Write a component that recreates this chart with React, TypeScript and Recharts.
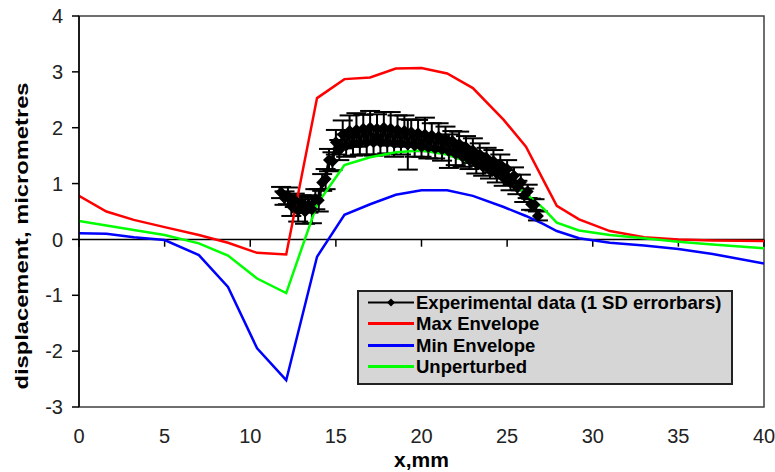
import { LineChart, Line, XAxis, YAxis, ReferenceLine, ReferenceArea, ErrorBar, Legend } from 'recharts';

// envelope curves share one x grid (mm)
const envX = [0, 1.6, 3.2, 5, 7, 8.7, 10.4, 12.1, 13.9, 15.5, 17, 18.5, 20, 21.5, 23, 24.8, 26.1, 27.1, 27.9, 29.2, 31, 33, 35, 37, 40];
const maxEnvelope = [0.78, 0.5, 0.35, 0.22, 0.08, -0.06, -0.24, -0.27, 2.53, 2.87, 2.9, 3.06, 3.07, 2.97, 2.71, 2.14, 1.66, 1.07, 0.6, 0.36, 0.15, 0.04, 0.0, -0.02, -0.03];
const minEnvelope = [0.11, 0.1, 0.04, -0.01, -0.28, -0.85, -1.95, -2.52, -0.31, 0.44, 0.63, 0.8, 0.88, 0.88, 0.78, 0.58, 0.42, 0.28, 0.15, 0.02, -0.06, -0.11, -0.17, -0.26, -0.43];
const unperturbed = [0.33, 0.25, 0.17, 0.08, -0.07, -0.29, -0.7, -0.96, 0.63, 1.33, 1.47, 1.56, 1.59, 1.52, 1.36, 1.13, 0.82, 0.56, 0.3, 0.16, 0.08, 0.02, -0.04, -0.09, -0.16];

// experimental points
const expX = [
  11.8, 12.0, 12.2, 12.4, 12.6, 12.8, 13.0, 13.2, 13.4, 13.6,
  13.8, 14.0, 14.2, 14.4, 14.6, 14.8, 15.0, 15.2, 15.4, 15.6,
  15.8, 16.0, 16.2, 16.4, 16.6, 16.8, 17.0, 17.2, 17.4, 17.6,
  17.8, 18.0, 18.2, 18.4, 18.6, 18.8, 19.0, 19.2, 19.4, 19.6,
  19.8, 20.0, 20.2, 20.4, 20.6, 20.8, 21.0, 21.2, 21.4, 21.6,
  21.8, 22.0, 22.2, 22.4, 22.6, 22.8, 23.0, 23.2, 23.4, 23.6,
  23.8, 24.0, 24.2, 24.4, 24.6, 24.8, 25.0, 25.2, 25.4, 25.6,
  25.8, 26.0, 26.2, 26.4, 26.6, 26.8,
];
const expY = [
  0.84, 0.74, 0.78, 0.6, 0.7, 0.52, 0.64, 0.5, 0.62, 0.54,
  0.72, 0.7, 1.02, 1.08, 1.42, 1.4, 1.74, 1.6, 1.88, 1.68,
  1.94, 1.72, 1.96, 1.72, 1.98, 1.74, 2.0, 1.74, 1.98, 1.74,
  2.0, 1.74, 1.98, 1.72, 1.96, 1.72, 1.94, 1.7, 1.92, 1.68,
  1.9, 1.66, 1.88, 1.65, 1.86, 1.63, 1.84, 1.61, 1.8, 1.58,
  1.76, 1.53, 1.71, 1.48, 1.65, 1.42, 1.59, 1.36, 1.52, 1.3,
  1.46, 1.24, 1.4, 1.18, 1.34, 1.1, 1.26, 1.02, 1.14, 0.93,
  1.02, 0.79, 0.86, 0.63, 0.62, 0.42,
];
const expSd = [
  0.1, 0.12, 0.15, 0.18, 0.12, 0.2, 0.15, 0.22, 0.14, 0.25,
  0.18, 0.2, 0.15, 0.18, 0.2, 0.16, 0.22, 0.18, 0.25, 0.2,
  0.28, 0.22, 0.3, 0.2, 0.25, 0.22, 0.3, 0.24, 0.26, 0.22,
  0.28, 0.2, 0.3, 0.24, 0.26, 0.2, 0.28, 0.45, 0.22, 0.2,
  0.24, 0.18, 0.3, 0.2, 0.22, 0.18, 0.24, 0.2, 0.22, 0.3,
  0.18, 0.2, 0.22, 0.18, 0.2, 0.16, 0.22, 0.18, 0.2, 0.16,
  0.18, 0.15, 0.2, 0.16, 0.18, 0.14, 0.16, 0.14, 0.15, 0.12,
  0.14, 0.12, 0.12, 0.1, 0.1, 0.08,
];

const xTicks = [0, 5, 10, 15, 20, 25, 30, 35, 40];
const yTicks = [-3, -2, -1, 0, 1, 2, 3, 4];

const seriesNames = ['Experimental data (1 SD errorbars)', 'Max Envelope', 'Min Envelope', 'Unperturbed'];

const toRows = (xs: number[], ys: number[]) => xs.map((x, i) => ({ x, y: ys[i] }));
const maxData = toRows(envX, maxEnvelope);
const minData = toRows(envX, minEnvelope);
const unpData = toRows(envX, unperturbed);
const expData = expX.map((x, i) => ({ x, y: expY[i], sd: expSd[i] }));

const FONT = '"Liberation Sans", Arial, sans-serif';
const colors = ['#000000', '#ff0000', '#0000ff', '#00ff00'];

const Diamond = (props: any) => {
  const { cx, cy } = props;
  if (cx == null || cy == null) return null;
  const r = 6;
  return <polygon points={`${cx},${cy - r} ${cx + r},${cy} ${cx},${cy + r} ${cx - r},${cy}`} fill="#000" />;
};

const YTitle = () => (
  <text
    x={27.5}
    y={236}
    transform="rotate(-90 27.5 236)"
    textAnchor="middle"
    fontFamily={FONT}
    fontWeight="bold"
    fontSize={19}
    textLength={307}
    lengthAdjust="spacingAndGlyphs"
    fill="#000"
  >
    displacement, micrometres
  </text>
);

const LegendBox = () => (
  <div
    style={{
      width: 376,
      height: 95,
      boxSizing: 'border-box',
      border: '2px solid #222',
      background: '#d6d6d6',
      fontFamily: FONT,
      fontWeight: 'bold',
      fontSize: 18.5,
      color: '#000',
    }}
  >
    {seriesNames.map((name, i) => (
      <div key={name} style={{ display: 'flex', alignItems: 'center', height: 21.3 }}>
        <svg width={57} height={21} style={{ flex: 'none' }}>
          <line x1={9} y1={10.5} x2={55} y2={10.5} stroke={colors[i]} strokeWidth={i === 0 ? 2 : 3} />
          {i === 0 && <polygon points="32,6.5 36,10.5 32,14.5 28,10.5" fill="#000" />}
        </svg>
        <span style={{ whiteSpace: 'nowrap', lineHeight: '21px' }}>{name}</span>
      </div>
    ))}
  </div>
);

export default function App() {
  return (
    <div style={{ position: 'absolute', left: 0, top: 0, background: '#fff' }}>
      <LineChart width={775} height={472} margin={{ top: 16, right: 11, bottom: 0, left: 0 }}>
        <XAxis
          type="number"
          dataKey="x"
          domain={[0, 40]}
          ticks={xTicks}
          allowDataOverflow
          axisLine={false}
          tickLine={false}
          tickSize={0}
          tickMargin={22}
          height={65}
          tick={{ fontSize: 20, fontFamily: FONT, fill: '#222' }}
          label={{ value: 'x,mm', position: 'insideBottom', offset: 5, fontSize: 21, fontWeight: 'bold', fontFamily: FONT, fill: '#000' }}
        />
        <YAxis
          type="number"
          domain={[-3, 4]}
          ticks={yTicks}
          allowDataOverflow
          width={79}
          axisLine={{ stroke: '#000', strokeWidth: 1.5 }}
          tickLine={{ stroke: '#000', strokeWidth: 1.5 }}
          tickSize={7}
          tickMargin={9}
          tick={{ fontSize: 20, fontFamily: FONT, fill: '#222' }}
          label={<YTitle />}
        />
        <ReferenceArea x1={0} x2={40} y1={-3} y2={4} fill="none" stroke="#404040" strokeWidth={1.5} ifOverflow="visible" />
        <ReferenceLine y={0} stroke="#000" strokeWidth={1.5} />
        {xTicks.map((t) => (
          <ReferenceLine key={t} segment={[{ x: t, y: 0 }, { x: t, y: -0.13 }]} stroke="#000" strokeWidth={1.5} />
        ))}
        <Line
          data={expData}
          dataKey="y"
          name={seriesNames[0]}
          type="linear"
          stroke="#000"
          strokeWidth={3}
          dot={<Diamond />}
          isAnimationActive={false}
        >
          <ErrorBar dataKey="sd" direction="y" width={10} stroke="#000" strokeWidth={2} />
        </Line>
        <Line data={maxData} dataKey="y" name={seriesNames[1]} type="linear" stroke={colors[1]} strokeWidth={2.5} dot={false} isAnimationActive={false} />
        <Line data={minData} dataKey="y" name={seriesNames[2]} type="linear" stroke={colors[2]} strokeWidth={2.5} dot={false} isAnimationActive={false} />
        <Line data={unpData} dataKey="y" name={seriesNames[3]} type="linear" stroke={colors[3]} strokeWidth={2.5} dot={false} isAnimationActive={false} />
        <Legend
          layout="vertical"
          align="center"
          verticalAlign="middle"
          content={<LegendBox />}
          wrapperStyle={{ left: 357, top: 290, width: 376, height: 95 }}
        />
      </LineChart>
    </div>
  );
}
